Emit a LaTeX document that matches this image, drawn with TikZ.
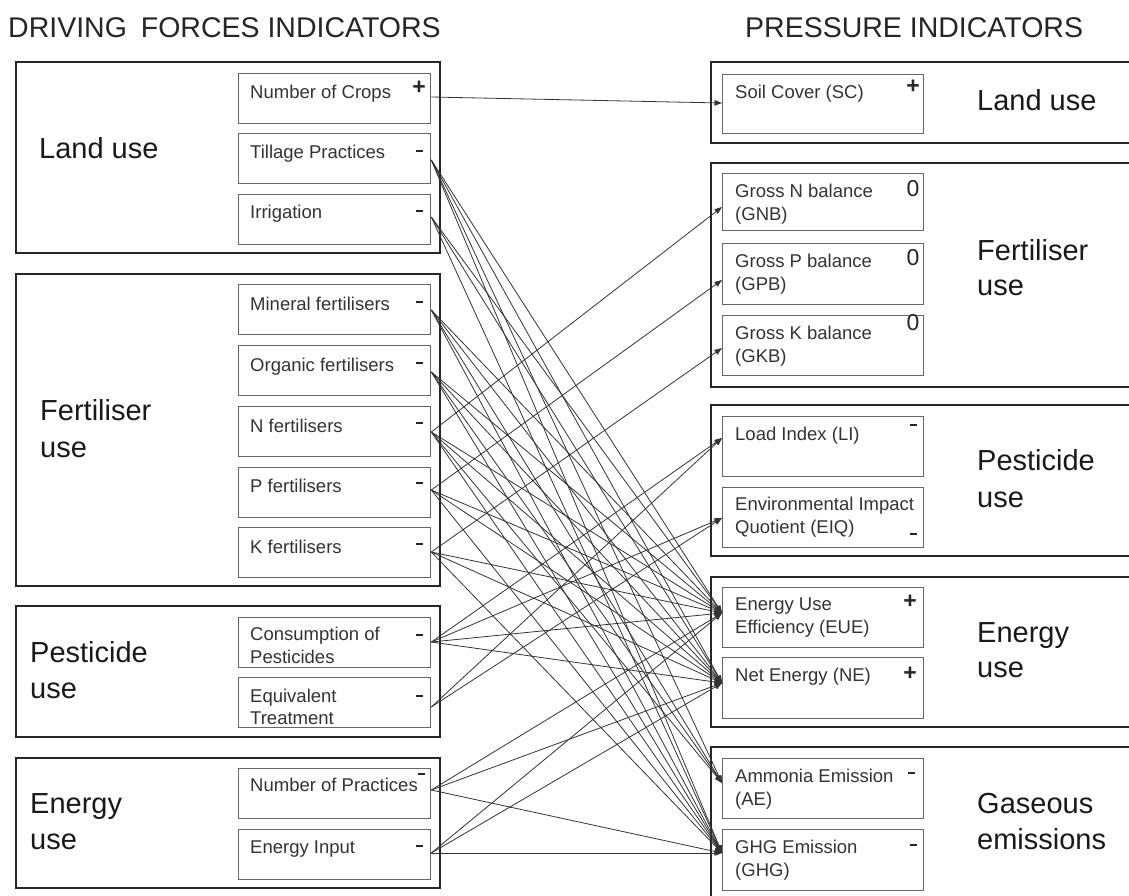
\documentclass[tikz,border=0pt]{standalone}
\usepackage{fontspec}
\setmainfont{Liberation Sans}
\usetikzlibrary{arrows.meta,calc}
\newcommand{\mydash}{\rule{7pt}{2.6pt}}
\begin{document}
\begin{tikzpicture}[x=1pt,y=-1pt,
  outbox/.style={draw=black!85, line width=2pt},
  inbox/.style={draw=black!60, line width=1.3pt, rectangle, inner sep=0pt, minimum width=192pt, minimum height=50pt, anchor=north west},
  rinbox/.style={inbox, minimum width=201pt, minimum height=60pt},
  intext/.style={font=\fontsize{18.5}{22}\selectfont, text=black!80, anchor=base west, inner sep=0pt},
  bigtext/.style={font=\fontsize{29}{36}\selectfont, text=black!90, anchor=base west, inner sep=0pt},
  headtext/.style={font=\fontsize{28.5}{34}\selectfont, text=black!85, anchor=base west, inner sep=0pt},
  signtext/.style={font=\fontsize{23}{23}\selectfont, inner sep=0pt, text=black!85},
  link/.style={draw=black!80, line width=0.8pt, -{Triangle[length=7.5pt,width=5.5pt]}},
]
\useasboundingbox (0,0) rectangle (1129,895);
\fill[white] (0,0) rectangle (1129,895);
\clip (0,0) rectangle (1129,895);

% headers
\node[headtext] (h1) at (8,37) {DRIVING\hspace{6pt} FORCES INDICATORS};
\node[headtext] (h2) at (745,37) {PRESSURE INDICATORS};

% left outer boxes
\draw[outbox] (16,62) rectangle (440,253);
\draw[outbox] (16,274) rectangle (440,586);
\draw[outbox] (16,606) rectangle (440,737);
\draw[outbox] (16,758) rectangle (440,888);

% right outer boxes
\draw[outbox] (711,62) rectangle (1140,143);
\draw[outbox] (711,163) rectangle (1140,387);
\draw[outbox] (711,405) rectangle (1140,556);
\draw[outbox] (711,577) rectangle (1140,727);
\draw[outbox] (711,747) rectangle (1140,905);

% left big labels
\node[bigtext] (lland) at (39,158) {Land use};
\node[bigtext] (lfert1) at (40,420) {Fertiliser};
\node[bigtext] (lfert2) at (40,457) {use};
\node[bigtext] (lpest1) at (30,662) {Pesticide};
\node[bigtext] (lpest2) at (30,698) {use};
\node[bigtext] (lener1) at (30,813) {Energy};
\node[bigtext] (lener2) at (30,849) {use};

% right big labels
\node[bigtext] (rland) at (977,110) {Land use};
\node[bigtext] (rfert1) at (977,260) {Fertiliser};
\node[bigtext] (rfert2) at (977,295) {use};
\node[bigtext] (rpest1) at (977,470) {Pesticide};
\node[bigtext] (rpest2) at (977,507) {use};
\node[bigtext] (rener1) at (977,642) {Energy};
\node[bigtext] (rener2) at (977,677) {use};
\node[bigtext] (rgas1) at (977,813) {Gaseous};
\node[bigtext] (rgas2) at (977,849) {emissions};

% left inner boxes
\node[inbox] (nc) at (238,73) {};
\node[inbox] (till) at (238,133) {};
\node[inbox] (irr) at (238,194) {};
\node[inbox] (minf) at (238,284) {};
\node[inbox] (orgf) at (238,345) {};
\node[inbox] (nf) at (238,406) {};
\node[inbox] (pf) at (238,467) {};
\node[inbox] (kf) at (238,527) {};
\node[inbox] (cons) at (238,617) {};
\node[inbox] (eqt) at (238,677) {};
\node[inbox] (np) at (238,768) {};
\node[inbox] (ei) at (238,829) {};

% left inner texts
\node[intext] (nc-t) at (250,98) {Number of Crops};
\node[intext] (till-t) at (250,158) {Tillage Practices};
\node[intext] (irr-t) at (250,218) {Irrigation};
\node[intext] (minf-t) at (250,310) {Mineral fertilisers};
\node[intext] (orgf-t) at (250,371) {Organic fertilisers};
\node[intext] (nf-t) at (250,432) {N fertilisers};
\node[intext] (pf-t) at (250,492) {P fertilisers};
\node[intext] (kf-t) at (250,553) {K fertilisers};
\node[intext] (cons-t1) at (250,640) {Consumption of};
\node[intext] (cons-t2) at (250,663) {Pesticides};
\node[intext] (eqt-t1) at (250,702) {Equivalent};
\node[intext] (eqt-t2) at (250,724) {Treatment};
\node[intext] (np-t) at (250,791) {Number of Practices};
\node[intext] (ei-t) at (250,853) {Energy Input};

% left signs
\node[signtext] (nc-s) at (419,88) {\textbf{+}};
\node[signtext] (till-s) at (419,151) {\mydash};
\node[signtext] (irr-s) at (419,211) {\mydash};
\node[signtext] (minf-s) at (419,302) {\mydash};
\node[signtext] (orgf-s) at (419,363) {\mydash};
\node[signtext] (nf-s) at (419,423) {\mydash};
\node[signtext] (pf-s) at (419,483) {\mydash};
\node[signtext] (kf-s) at (419,544) {\mydash};
\node[signtext] (cons-s) at (419,635) {\mydash};
\node[signtext] (eqt-s) at (419,696) {\mydash};
\node[signtext] (np-s) at (421,774) {\mydash};
\node[signtext] (ei-s) at (419,846) {\mydash};

% right inner boxes
\node[rinbox, minimum height=59pt] (sc) at (722,74) {};
\node[rinbox, minimum height=57pt] (gnb) at (722,173) {};
\node[rinbox, minimum height=61pt] (gpb) at (722,243) {};
\node[rinbox] (gkb) at (722,315) {};
\node[rinbox] (li) at (722,416) {};
\node[rinbox] (eiq) at (722,487) {};
\node[rinbox] (eue) at (722,587) {};
\node[rinbox, minimum height=61pt] (ne) at (722,657) {};
\node[rinbox] (ae) at (722,758) {};
\node[rinbox, minimum height=61pt] (ghg) at (722,829) {};

% right inner texts
\node[intext] (sc-t) at (735,98) {Soil Cover (SC)};
\node[intext] (gnb-t1) at (735,197) {Gross N balance};
\node[intext] (gnb-t2) at (735,220) {(GNB)};
\node[intext] (gpb-t1) at (735,267) {Gross P balance};
\node[intext] (gpb-t2) at (735,290) {(GPB)};
\node[intext] (gkb-t1) at (735,339) {Gross K balance};
\node[intext] (gkb-t2) at (735,362) {(GKB)};
\node[intext] (li-t) at (735,440) {Load Index (LI)};
\node[intext] (eiq-t1) at (735,510) {Environmental Impact};
\node[intext] (eiq-t2) at (735,533) {Quotient (EIQ)};
\node[intext] (eue-t1) at (735,610) {Energy Use};
\node[intext] (eue-t2) at (735,633) {Efficiency (EUE)};
\node[intext] (ne-t) at (735,681) {Net Energy (NE)};
\node[intext] (ae-t1) at (735,782) {Ammonia Emission};
\node[intext] (ae-t2) at (735,805) {(AE)};
\node[intext] (ghg-t1) at (735,853) {GHG Emission};
\node[intext] (ghg-t2) at (735,876) {(GHG)};

% right signs
\node[signtext] (sc-s) at (913,87) {\textbf{+}};
\node[signtext] (gnb-s) at (913,189) {0};
\node[signtext] (gpb-s) at (913,258) {0};
\node[signtext] (gkb-s) at (913,323) {0};
\node[signtext] (li-s) at (913,425) {\mydash};
\node[signtext] (eiq-s) at (913,534) {\mydash};
\node[signtext] (eue-s) at (910,602) {\textbf{+}};
\node[signtext] (ne-s) at (910,674) {\textbf{+}};
\node[signtext] (ae-s) at (911,773) {\mydash};
\node[signtext] (ghg-s) at (913,845) {\mydash};

% out ports
\coordinate (nc-o) at ($(nc.north east)+(0,24)$);
\coordinate (till-o) at ($(till.north east)+(0,27)$);
\coordinate (irr-o) at ($(irr.north east)+(0,23)$);
\coordinate (minf-o) at ($(minf.north east)+(0,26)$);
\coordinate (orgf-o) at ($(orgf.north east)+(0,27)$);
\coordinate (nf-o) at ($(nf.north east)+(0,26)$);
\coordinate (pf-o) at ($(pf.north east)+(0,23)$);
\coordinate (kf-o) at ($(kf.north east)+(0,25)$);
\coordinate (cons-o) at ($(cons.north east)+(0,25)$);
\coordinate (eqt-o) at ($(eqt.north east)+(0,30)$);
\coordinate (np-o) at ($(np.north east)+(0,22)$);
\coordinate (ei-o) at ($(ei.north east)+(0,24)$);

% in ports
\coordinate (sc-i) at ($(sc.north west)+(0,29)$);
\coordinate (gnb-i) at ($(gnb.north west)+(0,34)$);
\coordinate (gpb-i) at ($(gpb.north west)+(0,37)$);
\coordinate (gkb-i) at ($(gkb.north west)+(0,33)$);
\coordinate (li-i) at ($(li.north west)+(0,22)$);
\coordinate (eiq-i) at ($(eiq.north west)+(0,31)$);
\coordinate (eue-i) at ($(eue.north west)+(0,26)$);
\coordinate (ne-i) at ($(ne.north west)+(0,26)$);
\coordinate (ae-i) at ($(ae.north west)+(0,25)$);
\coordinate (ghg-i) at ($(ghg.north west)+(0,24)$);

% links
\foreach \s/\t in {nc/sc,
  till/eue, till/ne, till/ae, till/ghg,
  irr/eue, irr/ne, irr/ghg,
  minf/eue, minf/ne, minf/ae, minf/ghg,
  orgf/eue, orgf/ne, orgf/ae, orgf/ghg,
  nf/gnb, nf/eue, nf/ne, nf/ae, nf/ghg,
  pf/gpb, pf/eue, pf/ne, pf/ghg,
  kf/gkb, kf/eue, kf/ne, kf/ghg,
  cons/li, cons/eiq, cons/eue, cons/ne,
  eqt/li, eqt/eiq,
  np/eue, np/ne, np/ghg,
  ei/eue, ei/ne, ei/ghg}
  \draw[link] (\s-o) -- (\t-i);
\end{tikzpicture}
\end{document}
